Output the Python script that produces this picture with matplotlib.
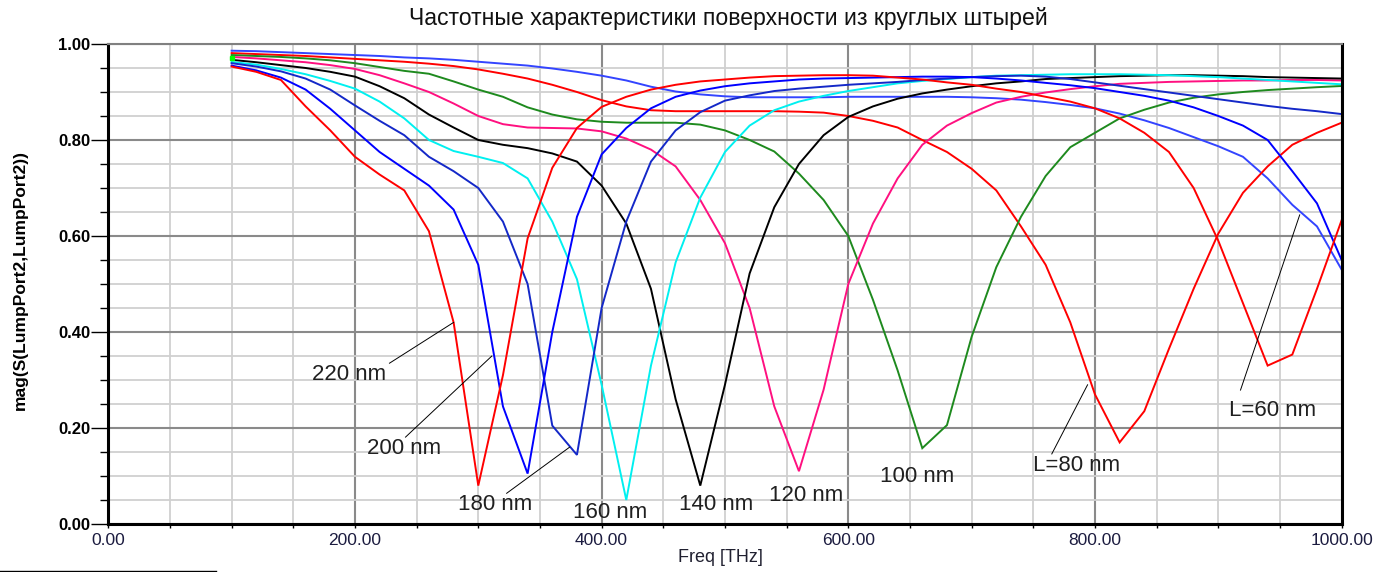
import matplotlib
matplotlib.use("Agg")
import matplotlib.pyplot as plt
from matplotlib.ticker import MultipleLocator, FormatStrFormatter
from matplotlib.lines import Line2D

plt.rcParams['font.family'] = ['Liberation Sans', 'DejaVu Sans']

# Frequency sweep, THz
freq = [100, 120, 140, 160, 180, 200, 220, 240, 260, 280,
        300, 320, 340, 360, 380, 400, 420, 440, 460, 480,
        500, 520, 540, 560, 580, 600, 620, 640, 660, 680,
        700, 720, 740, 760, 780, 800, 820, 840, 860, 880,
        900, 920, 940, 960, 980, 1000]

# |S22| for each rod length
s_L60 = [0.986, 0.985, 0.983, 0.981, 0.979, 0.977, 0.975, 0.972, 0.970, 0.967,
         0.963, 0.959, 0.955, 0.949, 0.942, 0.934, 0.924, 0.911, 0.901, 0.895,
         0.891, 0.889, 0.889, 0.889, 0.889, 0.890, 0.890, 0.890, 0.890, 0.890,
         0.889, 0.887, 0.884, 0.879, 0.873, 0.866, 0.855, 0.841, 0.825, 0.806,
         0.787, 0.765, 0.720, 0.665, 0.620, 0.530]
s_L80 = [0.981, 0.979, 0.977, 0.975, 0.972, 0.969, 0.966, 0.963, 0.959, 0.954,
         0.947, 0.938, 0.928, 0.915, 0.900, 0.883, 0.870, 0.862, 0.860, 0.860,
         0.860, 0.860, 0.860, 0.859, 0.857, 0.850, 0.840, 0.826, 0.800, 0.775,
         0.740, 0.695, 0.620, 0.540, 0.420, 0.270, 0.170, 0.235, 0.365, 0.490,
         0.605, 0.690, 0.745, 0.790, 0.815, 0.836]
s_L100 = [0.977, 0.975, 0.973, 0.970, 0.966, 0.960, 0.952, 0.944, 0.938, 0.922,
          0.905, 0.890, 0.868, 0.853, 0.843, 0.838, 0.836, 0.836, 0.836, 0.832,
          0.820, 0.800, 0.776, 0.730, 0.675, 0.600, 0.467, 0.320, 0.158, 0.206,
          0.390, 0.535, 0.640, 0.725, 0.785, 0.815, 0.845, 0.863, 0.878, 0.888,
          0.895, 0.900, 0.904, 0.907, 0.910, 0.9125]
s_L120 = [0.973, 0.970, 0.966, 0.962, 0.956, 0.948, 0.935, 0.918, 0.900, 0.876,
          0.850, 0.833, 0.826, 0.825, 0.824, 0.818, 0.803, 0.780, 0.745, 0.675,
          0.585, 0.450, 0.245, 0.110, 0.280, 0.500, 0.626, 0.720, 0.790, 0.830,
          0.856, 0.878, 0.890, 0.899, 0.906, 0.912, 0.917, 0.919, 0.921, 0.922,
          0.923, 0.924, 0.924, 0.925, 0.925, 0.924]
s_L140 = [0.967, 0.962, 0.956, 0.950, 0.942, 0.932, 0.912, 0.887, 0.853, 0.826,
          0.800, 0.790, 0.783, 0.772, 0.755, 0.705, 0.626, 0.490, 0.260, 0.080,
          0.290, 0.522, 0.660, 0.750, 0.810, 0.848, 0.870, 0.886, 0.897, 0.905,
          0.912, 0.918, 0.922, 0.927, 0.929, 0.931, 0.933, 0.934, 0.935, 0.935,
          0.934, 0.933, 0.931, 0.930, 0.929, 0.928]
s_L160 = [0.9625, 0.957, 0.948, 0.937, 0.923, 0.907, 0.880, 0.845, 0.800, 0.777,
          0.765, 0.752, 0.720, 0.630, 0.510, 0.290, 0.050, 0.330, 0.545, 0.680,
          0.775, 0.830, 0.862, 0.880, 0.892, 0.902, 0.910, 0.918, 0.923, 0.927,
          0.931, 0.934, 0.935, 0.936, 0.937, 0.937, 0.937, 0.936, 0.935, 0.933,
          0.931, 0.928, 0.925, 0.922, 0.919, 0.916]
s_L180 = [0.960, 0.953, 0.943, 0.928, 0.905, 0.872, 0.840, 0.810, 0.765, 0.735,
          0.700, 0.630, 0.500, 0.205, 0.144, 0.450, 0.630, 0.755, 0.820, 0.858,
          0.882, 0.893, 0.902, 0.907, 0.911, 0.915, 0.918, 0.921, 0.925, 0.928,
          0.931, 0.933, 0.934, 0.932, 0.927, 0.920, 0.913, 0.906, 0.899, 0.892,
          0.885, 0.878, 0.871, 0.865, 0.860, 0.854]
s_L200 = [0.955, 0.945, 0.930, 0.905, 0.865, 0.820, 0.775, 0.740, 0.705, 0.655,
          0.540, 0.245, 0.105, 0.400, 0.640, 0.770, 0.825, 0.866, 0.890, 0.903,
          0.912, 0.918, 0.922, 0.926, 0.928, 0.929, 0.930, 0.931, 0.932, 0.932,
          0.931, 0.928, 0.924, 0.919, 0.914, 0.908, 0.900, 0.892, 0.882, 0.868,
          0.850, 0.830, 0.800, 0.735, 0.668, 0.550]
s_L220 = [0.953, 0.942, 0.925, 0.870, 0.820, 0.765, 0.728, 0.695, 0.610, 0.420,
          0.080, 0.310, 0.595, 0.742, 0.825, 0.869, 0.890, 0.905, 0.915, 0.922,
          0.926, 0.930, 0.933, 0.934, 0.935, 0.935, 0.934, 0.930, 0.926, 0.920,
          0.915, 0.907, 0.900, 0.890, 0.880, 0.866, 0.845, 0.815, 0.775, 0.700,
          0.590, 0.460, 0.330, 0.353, 0.490, 0.633]

curves = [
    (s_L60, '#3344ff'),
    (s_L80, '#ff0000'),
    (s_L100, '#1e8a1e'),
    (s_L120, '#ff1080'),
    (s_L140, '#000000'),
    (s_L160, '#00f0f0'),
    (s_L180, '#1428c8'),
    (s_L200, '#0000ff'),
    (s_L220, '#ff0000'),
]

x_ticks = [0, 200, 400, 600, 800, 1000]
y_ticks = [0.0, 0.2, 0.4, 0.6, 0.8, 1.0]

fig = plt.figure(figsize=(13.81, 5.72), dpi=100)
ax = fig.add_axes([0.0784, 0.0839, 0.8931, 0.8392])

ax.set_xlim(0, 1000)
ax.set_ylim(0, 1.0)
ax.set_xticks(x_ticks)
ax.set_yticks(y_ticks)
ax.xaxis.set_minor_locator(MultipleLocator(50))
ax.yaxis.set_minor_locator(MultipleLocator(0.05))
ax.xaxis.set_major_formatter(FormatStrFormatter('%.2f'))
ax.yaxis.set_major_formatter(FormatStrFormatter('%.2f'))

ax.set_axisbelow(True)
ax.grid(which='minor', color='#d0d0d0', lw=1.3)
ax.grid(which='major', color='#8a8a8a', lw=1.5)

for vals, col in curves:
    ax.plot(freq, vals, color=col, lw=1.4, solid_joinstyle='miter')

ax.plot([freq[0]], [0.970], marker='s', color='#00ff00', ms=3.5, zorder=5)

for side in ('left', 'bottom', 'right'):
    ax.spines[side].set_color('black')
    ax.spines[side].set_linewidth(2.2)
ax.spines['top'].set_color('#808080')
ax.spines['top'].set_linewidth(1.5)

ax.tick_params(axis='x', which='both', direction='out', length=3, width=1,
               pad=3.5, labelsize=12.5, labelcolor='#1c1c40')
ax.tick_params(axis='y', which='major', direction='out', length=12, width=1,
               pad=1, labelsize=12)
ax.tick_params(axis='y', which='minor', direction='out', length=6, width=1)
for lab in ax.get_yticklabels():
    lab.set_fontweight('bold')

# Curve labels with leader lines
label_kw = dict(fontsize=16, color='#202020', ha='center', va='center')
line_kw = dict(color='black', lw=0.7)

ax.text(195, 0.3125, '220 nm', **label_kw)
ax.plot([228, freq[9]], [0.335, s_L220[9]], **line_kw)
ax.text(240, 0.158, '200 nm', **label_kw)
ax.plot([241, 311], [0.181, 0.35], **line_kw)
ax.text(314, 0.040, '180 nm', **label_kw)
ax.plot([323, 374], [0.064, 0.160], **line_kw)
ax.text(407, 0.025, '160 nm', **label_kw)
ax.text(493, 0.040, '140 nm', **label_kw)
ax.text(566, 0.060, '120 nm', **label_kw)
ax.text(656, 0.100, '100 nm', **label_kw)
ax.text(785, 0.121, 'L=80 nm', **label_kw)
ax.plot([765, 794], [0.146, 0.29], **line_kw)
ax.text(944, 0.2375, 'L=60 nm', **label_kw)
ax.plot([918, 966], [0.279, 0.644], **line_kw)

fig.text(728 / 1381, 1 - 18 / 572,
         'Частотные характеристики поверхности из круглых штырей',
         ha='center', va='center', fontsize=16.6, color='#111111')
fig.text(20 / 1381, 1 - 280 / 572, 'mag(S(LumpPort2,LumpPort2))',
         rotation=90, ha='center', va='center', fontsize=12.5,
         fontweight='bold')
fig.text(720 / 1381, 1 - 557 / 572, 'Freq [THz]', ha='center', va='center',
         fontsize=13, color='#202030')

fig.add_artist(Line2D([0, 216 / 1381], [1.2 / 572, 1.2 / 572],
                      color='black', lw=1))

fig.savefig('out.png', dpi=100)
